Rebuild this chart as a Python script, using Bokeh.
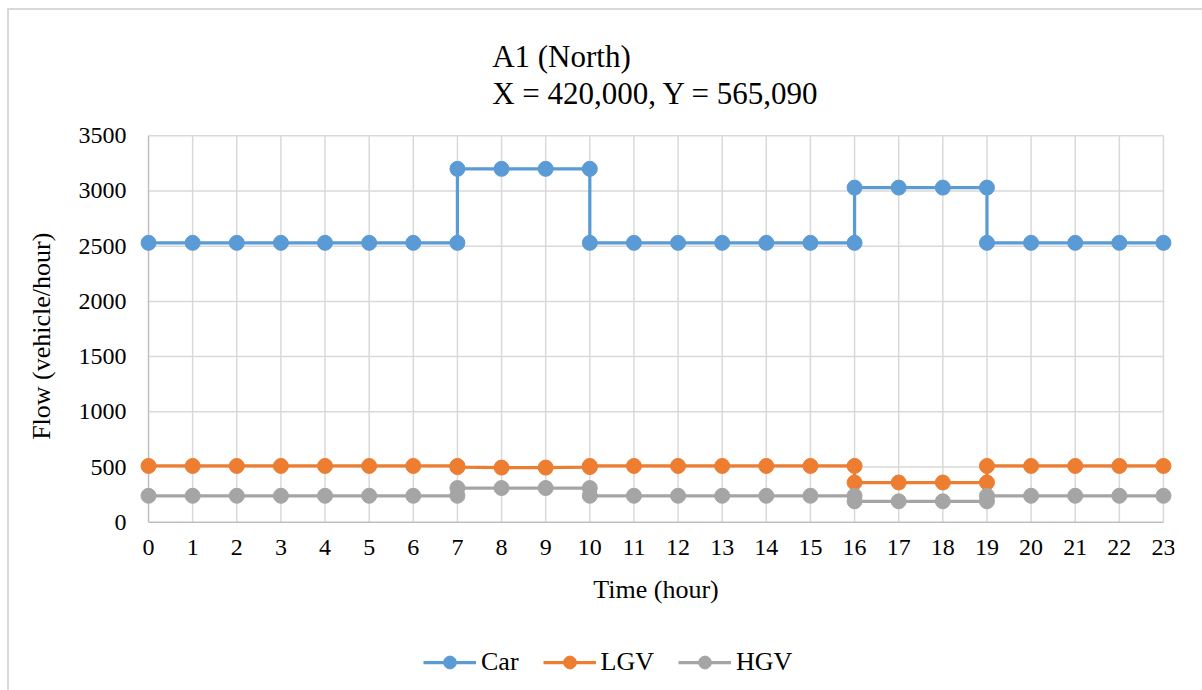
from bokeh.plotting import figure
from bokeh.models import Range1d, FixedTicker, Legend, LegendItem
from bokeh.embed import file_html
from bokeh.resources import INLINE

# ---- data ----
car_x = [0, 1, 2, 3, 4, 5, 6, 7, 7, 8, 9, 10, 10, 11, 12, 13, 14, 15, 16, 16, 17, 18, 19, 19, 20, 21, 22, 23]
car_y = [2530, 2530, 2530, 2530, 2530, 2530, 2530, 2530, 3200, 3200, 3200, 3200, 2530, 2530, 2530, 2530,
         2530, 2530, 2530, 3030, 3030, 3030, 3030, 2530, 2530, 2530, 2530, 2530]
lgv_x = [0, 1, 2, 3, 4, 5, 6, 7, 7, 8, 9, 10, 10, 11, 12, 13, 14, 15, 16, 16, 17, 18, 19, 19, 20, 21, 22, 23]
lgv_y = [510, 510, 510, 510, 510, 510, 510, 510, 500, 495, 495, 500, 510, 510, 510, 510,
         510, 510, 510, 360, 360, 360, 360, 510, 510, 510, 510, 510]
hgv_x = [0, 1, 2, 3, 4, 5, 6, 7, 7, 8, 9, 10, 10, 11, 12, 13, 14, 15, 16, 16, 17, 18, 19, 19, 20, 21, 22, 23]
hgv_y = [240, 240, 240, 240, 240, 240, 240, 240, 310, 310, 310, 310, 240, 240, 240, 240,
         240, 240, 240, 190, 190, 190, 190, 240, 240, 240, 240, 240]
hours = list(range(24))
y_ticks = [0, 500, 1000, 1500, 2000, 2500, 3000, 3500]
series_names = ["Car", "LGV", "HGV"]
colors = ["#5B9BD5", "#ED7D31", "#A5A5A5"]
title_text = "A1 (North)\nX = 420,000, Y = 565,090"
x_label = "Time (hour)"
y_label = "Flow (vehicle/hour)"

FONT = "Liberation Serif"

# frame reaches down to the bottom so the legend can sit inside it
p = figure(frame_width=1037, frame_height=555, output_backend="svg", toolbar_location=None,
           x_range=Range1d(-0.25, 23.25), y_range=Range1d(-1505, 3520),
           min_border_left=128, min_border_right=28, min_border_top=123, min_border_bottom=2)
p.styles = {"margin-left": "7px", "margin-top": "8px",
            "border-left": "2px solid #d9d9d9", "border-top": "2px solid #d9d9d9"}

p.outline_line_color = None
p.xgrid.visible = False
p.ygrid.visible = False

# title
p.title.text = title_text
p.title.align = "center"
p.title.text_font = FONT
p.title.text_font_size = "31px"
p.title.text_font_style = "normal"
p.title.text_color = "#000000"
p.title.text_line_height = 1.07
p.title.offset = 0
p.title.standoff = 44

# grid lines drawn from the tick/category lists
xmin, xmax = min(hours), max(hours)
ymin, ymax = min(y_ticks), max(y_ticks)
p.segment(x0=[xmin] * len(y_ticks[1:]), x1=[xmax] * len(y_ticks[1:]), y0=y_ticks[1:], y1=y_ticks[1:],
          line_color="#d9d9d9", line_width=1.5)
p.segment(x0=hours[1:], x1=hours[1:], y0=[ymin] * len(hours[1:]), y1=[ymax] * len(hours[1:]),
          line_color="#d9d9d9", line_width=1.5)
# axis lines
p.segment(x0=[xmin], x1=[xmax], y0=[ymin], y1=[ymin], line_color="#bfbfbf", line_width=1.5)
p.segment(x0=[xmin], x1=[xmin], y0=[ymin], y1=[ymax], line_color="#bfbfbf", line_width=1.5)

items = []
for name, xs, ys, c in zip(series_names, [car_x, lgv_x, hgv_x], [car_y, lgv_y, hgv_y], colors):
    r1 = p.line(xs, ys, line_color=c, line_width=3.25)
    r2 = p.scatter(xs, ys, marker="circle", size=15, fill_color=c, line_color=c)
    items.append(LegendItem(label=name, renderers=[r1, r2]))

# axes
p.xaxis.ticker = FixedTicker(ticks=hours)
p.yaxis.ticker = FixedTicker(ticks=y_ticks)
p.xaxis.fixed_location = ymin
p.xaxis.bounds = (xmin, xmax)
p.yaxis.bounds = (ymin, ymax)
for ax in (p.xaxis, p.yaxis):
    ax.axis_line_color = None
    ax.major_tick_line_color = None
    ax.minor_tick_line_color = None
    ax.major_label_text_font = FONT
    ax.major_label_text_font_size = "24px"
    ax.major_label_text_color = "#000000"
    ax.axis_label_text_font = FONT
    ax.axis_label_text_font_size = "26px"
    ax.axis_label_text_font_style = "normal"
    ax.axis_label_text_color = "#000000"
p.xaxis.axis_label = x_label
# leading non-breaking spaces lift the centred label up beside the 0-3500 span
p.yaxis.axis_label = "\u00a0" * 23 + y_label
p.xaxis.major_label_standoff = 12
p.yaxis.major_label_standoff = 5
p.xaxis.axis_label_standoff = 16
p.yaxis.axis_label_standoff = 20

legend = Legend(items=items, orientation="horizontal", location=(286, 10),
                label_text_font=FONT, label_text_font_size="26px", label_text_color="#000000",
                glyph_width=53, glyph_height=32, spacing=24, label_standoff=5,
                border_line_color=None, background_fill_alpha=0, padding=4, margin=0)
p.add_layout(legend, "center")

open("out.html", "w").write(file_html(p, INLINE))
